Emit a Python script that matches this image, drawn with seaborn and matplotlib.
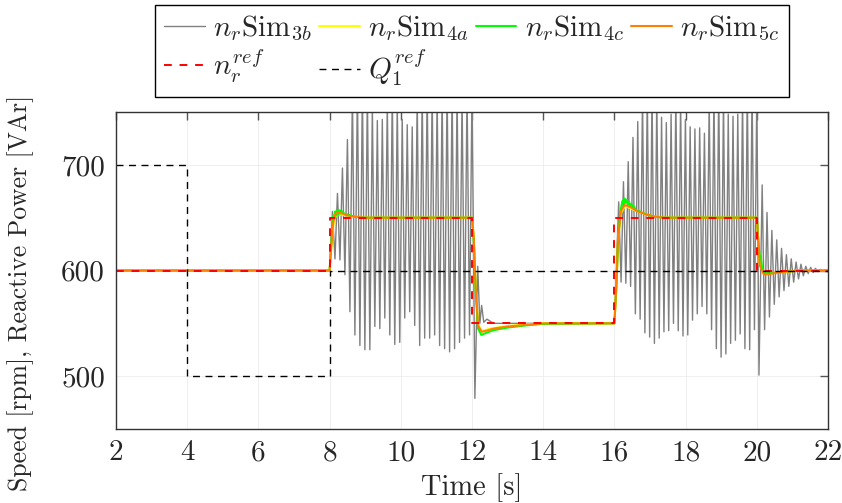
import numpy as np
import pandas as pd
import matplotlib
matplotlib.use('Agg')
import matplotlib.pyplot as plt
from matplotlib.lines import Line2D
import seaborn as sns

# --- values ---
# Sim3b: extrema of the oscillating segments (peaks/troughs alternate)
osc1_span = (8.08, 12.0)
osc1_peaks = [656, 673, 697, 724, 770, 775, 775, 770, 755, 742, 743, 760, 770, 760, 743,
              738, 736, 765, 770, 775, 770, 765, 770, 775, 775, 770, 765, 770, 775]
osc1_troughs = [611, 610, 596, 561, 539, 529, 525, 525, 547, 545, 555, 539, 530, 532,
                555, 561, 548, 529, 536, 536, 539, 529, 526, 523, 526, 532, 536, 539]
osc2_span = (16.12, 20.0)
osc2_peaks = [665, 684, 703, 726, 741, 765, 770, 770, 765, 745, 740, 748, 765, 760, 743,
              736, 734, 735, 730, 760, 770, 775, 765, 748, 746, 748, 765, 775, 775, 770]
osc2_troughs = [589, 588, 585, 559, 554, 541, 537, 531, 536, 542, 543, 550, 543, 538, 539,
                553, 559, 566, 559, 544, 526, 518, 521, 531, 534, 540, 526, 525, 544]
decay_span = (20.15, 21.92)
decay_peaks = [681, 655, 638, 629, 621, 615, 611, 608, 606, 604, 603, 602, 601, 600.5]
decay_troughs = [544, 556, 568, 575, 581, 585, 589, 592, 595, 597, 598, 599, 599.5]

s3b_pre_t = [2, 8.0]
s3b_pre_v = [600, 600]
s3b_mid_t = [12.08, 12.16, 12.22, 12.27, 12.33, 12.42, 12.6, 16.0]
s3b_mid_v = [479, 604, 550, 567, 551, 554, 550, 550]
s3b_dip_t = [20.06]
s3b_dip_v = [501]
s3b_end_t = [22]
s3b_end_v = [600]

# Sim5c (orange)
s5c_t = [2, 8.0, 8.05, 8.1, 8.15, 8.22, 8.35, 8.5, 8.7, 9.0, 12.0, 12.05, 12.1, 12.17,
         12.27, 12.4, 12.6, 13.0, 13.5, 14.0, 16.0, 16.06, 16.1, 16.18, 16.29, 16.45,
         16.65, 16.9, 17.12, 17.4, 20.0, 20.04, 20.08, 20.2, 20.5, 20.85, 21.2, 22]
s5c_v = [600, 600, 625, 645, 653, 655, 654, 652, 651, 650, 650, 630, 585, 548,
         542, 543, 545, 547, 548.5, 550, 550, 590, 630, 656, 662, 660,
         656, 653, 651, 650, 650, 628, 605, 596, 597.5, 599, 600, 600]

# Sim4a (yellow)
s4a_t = [2, 8.0, 8.05, 8.1, 8.15, 8.22, 8.35, 8.5, 8.7, 9.0, 12.0, 12.05, 12.1, 12.17,
         12.27, 12.4, 12.6, 13.0, 13.5, 14.0, 16.0, 16.06, 16.1, 16.18, 16.29, 16.45,
         16.65, 16.9, 17.12, 17.4, 20.0, 20.04, 20.08, 20.2, 20.5, 20.85, 21.2, 22]
s4a_v = [600, 600, 622, 642, 650, 653, 653, 652, 651, 650, 650, 632, 588, 549,
         543, 544, 545.5, 547.5, 549, 550, 550, 588, 628, 654, 661, 659,
         656, 653, 651, 650, 650, 630, 606, 597, 598, 599, 600, 600]

# Sim4c (green)
s4c_t = [2, 8.0, 8.05, 8.08, 8.1, 8.13, 8.16, 8.19, 8.22, 8.25, 8.28, 8.31, 8.35, 8.4,
         8.5, 8.7, 9.0, 12.0, 12.05, 12.1, 12.17, 12.26, 12.4, 12.6, 13.0, 13.5, 14.0,
         16.0, 16.06, 16.1, 16.16, 16.2, 16.23, 16.26, 16.29, 16.32, 16.35, 16.38, 16.41,
         16.44, 16.48, 16.52, 16.56, 16.6, 16.7, 16.9, 17.12, 17.4, 20.0, 20.04, 20.08,
         20.11, 20.14, 20.2, 20.5, 20.85, 21.2, 22]
s4c_v = [600, 600, 628, 645, 652, 649, 656, 652, 657, 653, 657, 654, 656, 654,
         653, 651, 650, 650, 628, 582, 545, 539, 541, 543.5, 546, 548, 549.5,
         550, 588, 628, 652, 662, 666, 663, 668, 664, 667, 663, 665,
         661, 663, 659, 660, 657, 656, 653, 651, 650, 650, 630, 612,
         614, 604, 597, 598, 599.2, 600, 600]

# references (step after each time)
nref_t = [2, 8, 12, 16, 20, 22]
nref_v = [600, 650, 550, 650, 600, 600]
qref_t = [2, 4, 8, 22]
qref_v = [700, 500, 600, 600]

xticks = [2, 4, 6, 8, 10, 12, 14, 16, 18, 20, 22]
yticks = [500, 600, 700]


def weave(span, peaks, troughs):
    vals = [None] * (len(peaks) + len(troughs))
    vals[0::2] = peaks
    vals[1::2] = troughs
    return list(np.linspace(span[0], span[1], len(vals))), vals


o1_t, o1_v = weave(osc1_span, osc1_peaks, osc1_troughs)
o2_t, o2_v = weave(osc2_span, osc2_peaks, osc2_troughs)
d_t, d_v = weave(decay_span, decay_peaks, decay_troughs)
s3b_t = s3b_pre_t + o1_t + s3b_mid_t + o2_t + s3b_dip_t + d_t + s3b_end_t
s3b_v = s3b_pre_v + o1_v + s3b_mid_v + o2_v + s3b_dip_v + d_v + s3b_end_v

sns.set_style('whitegrid')
plt.rcParams['font.family'] = 'cmr10'
plt.rcParams['mathtext.fontset'] = 'cm'
plt.rcParams['axes.formatter.use_mathtext'] = True

fig = plt.figure(figsize=(8.42, 5.03), dpi=100)
ax = fig.add_axes([0.1378, 0.1471, 0.8456, 0.6302])

kw = dict(ax=ax, estimator=None, sort=False)
sns.lineplot(x=s3b_t, y=s3b_v, color='#808080', lw=1.0, **kw)
sns.lineplot(x=s4a_t, y=s4a_v, color='#ffff00', lw=1.5, **kw)
sns.lineplot(x=s4c_t, y=s4c_v, color='#00ff00', lw=1.5, **kw)
sns.lineplot(x=s5c_t, y=s5c_v, color='#ff8000', lw=1.5, **kw)
sns.lineplot(x=nref_t, y=nref_v, color='#ff0000', lw=1.4, drawstyle='steps-post',
             dashes=False, **kw)
sns.lineplot(x=qref_t, y=qref_v, color='black', lw=1.0, drawstyle='steps-post',
             dashes=False, **kw)
lines = ax.get_lines()
lines[4].set_dashes((4, 4))
lines[5].set_dashes((5, 4))

ax.set_xlim(2, 22)
ax.set_ylim(450, 750)
ax.set_xticks(xticks)
ax.set_yticks(yticks)
ax.set_xticklabels([str(t) for t in xticks])
ax.set_yticklabels([str(t) for t in yticks])
ax.tick_params(axis='both', which='major', labelsize=21, direction='in', length=6,
               width=1.0, color='#555555', top=True, right=True, pad=8)
ax.grid(True, color='#ececec', lw=0.6)
for sp in ax.spines.values():
    sp.set_color('#333333')
    sp.set_linewidth(1.0)

ax.set_xlabel('Time [s]', fontsize=20.5, labelpad=5)
ax.set_ylabel('Speed [rpm], Reactive Power [VAr]', fontsize=18.5)
ax.yaxis.set_label_coords(-0.115, 0.43)

blank = Line2D([], [], alpha=0)
handles = [lines[0], lines[4], lines[1], lines[5], lines[2], blank, lines[3], blank]
labels = [r'$n_r\mathrm{Sim}_{3b}$', r'$n_r^{ref}$', r'$n_r\mathrm{Sim}_{4a}$',
          r'$Q_1^{ref}$', r'$n_r\mathrm{Sim}_{4c}$', '', r'$n_r\mathrm{Sim}_{5c}$', '']
leg = ax.legend(handles, labels, ncol=4, loc='lower left', mode='expand',
                bbox_to_anchor=(0.0548, 1.047, 0.890, 0.2),
                borderaxespad=0, fontsize=21, handlelength=1.4, handletextpad=0.3,
                columnspacing=0.3, labelspacing=0.15, borderpad=0.3,
                fancybox=False, framealpha=1, edgecolor='black')
leg.get_frame().set_linewidth(1.0)

fig.savefig('out.png', dpi=100)
